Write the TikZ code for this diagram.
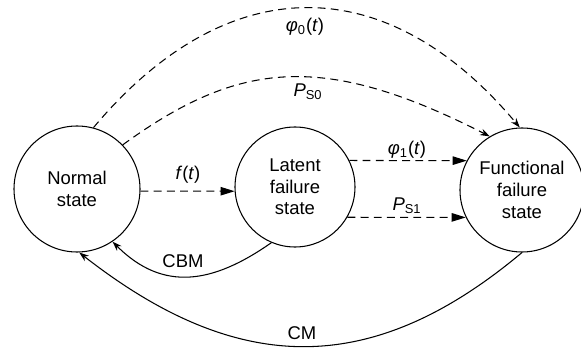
\documentclass[tikz,border=0pt]{standalone}
\usepackage{fontspec}
\setmainfont{Liberation Sans}
\usetikzlibrary{arrows.meta}

\begin{document}
\begin{tikzpicture}[
  font=\fontsize{10.5}{12.3}\selectfont,
  statenode/.style={draw, circle, line width=0.6pt, align=center, inner sep=0pt},
  dashline/.style={line width=0.6pt, dash pattern=on 4.5pt off 3pt},
  solidline/.style={line width=0.6pt},
  bigtip/.style={-{Triangle[length=8pt, width=4.8pt]}},
  smalltip/.style={-{Stealth[length=5.5pt, width=3.8pt]}}
]
  \useasboundingbox (0,0) rectangle (11.62,6.98);

  % states
  \node[statenode, minimum size=2.52cm] (normal) at (1.54,3.20) {Normal\\state};
  \node[statenode, minimum size=2.40cm] (latent) at (5.90,3.24) {Latent\\failure\\state};
  \node[statenode, minimum size=2.48cm] (functional) at (10.44,3.18) {Functional\\failure\\state};

  % degradation
  \draw[dashline, bigtip] (normal.-2) -- (latent.184);
  \draw[dashline, bigtip] (latent.26) -- (functional.152);
  \draw[dashline, bigtip] (latent.-30) -- (functional.206);
  \draw[dashline, smalltip] (normal.75) to[out=50, in=130, looseness=1.25] (functional.92);
  \draw[dashline, smalltip] (normal.44) to[out=36, in=153, out looseness=1.0, in looseness=1.3] (functional.121);

  % maintenance
  \draw[solidline, smalltip] (latent.247) to[out=215, in=-45, looseness=1.15] (normal.-56);
  \draw[solidline, smalltip] (functional.270) to[out=220, in=-38, looseness=1.15] (normal.272);

  % labels
  \node (ft) at (3.76,3.48) {\textit{f}(\textit{t})};
  \node (phione) at (8.14,3.98) {\textit{φ}\textsubscript{1}(\textit{t})};
  \node (psone) at (8.14,2.86) {\textit{P}\textsubscript{S1}};
  \node (phizero) at (6.10,6.44) {\textit{φ}\textsubscript{0}(\textit{t})};
  \node (pszero) at (6.16,5.14) {\textit{P}\textsubscript{S0}};
  \node (cbm) at (3.66,1.76) {CBM};
  \node (cm) at (6.04,0.32) {CM};
\end{tikzpicture}
\end{document}
